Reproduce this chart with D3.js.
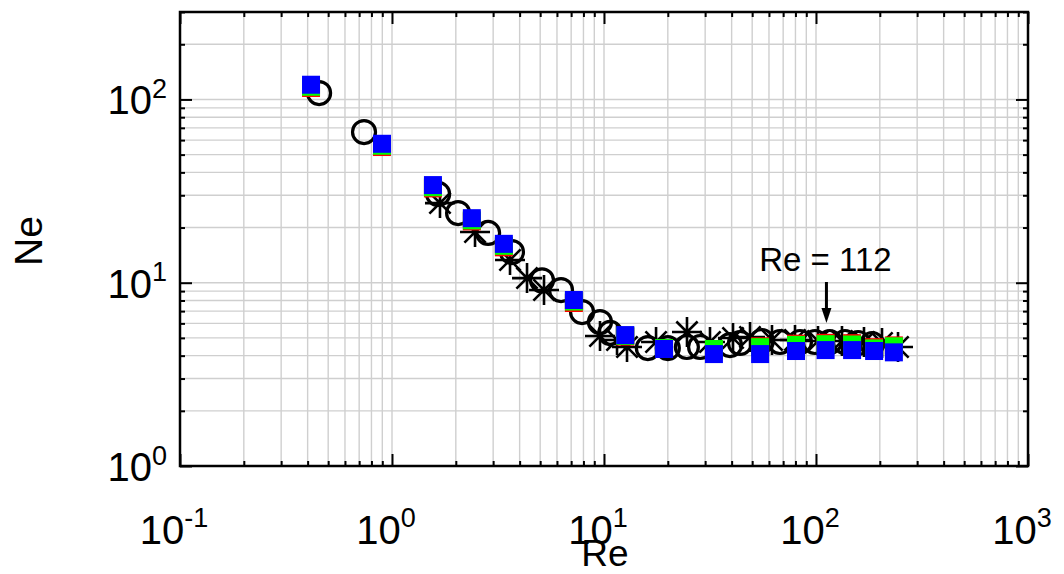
<!DOCTYPE html>
<html>
<head>
<meta charset="utf-8">
<script src="https://cdn.jsdelivr.net/npm/d3@7"></script>
<style>
  html, body { margin: 0; padding: 0; background: #fff; }
  svg { display: block; font-family: "Liberation Sans", Arial, sans-serif; }
</style>
</head>
<body>
<svg id="chart" width="1064" height="574"></svg>
<script>
// ---- data ----
const xTicks = [0.1, 1, 10, 100, 1000];
const xTickExp = ["-1", "0", "1", "2", "3"];
const yTicks = [1, 10, 100];
const yTickExp = ["0", "1", "2"];

// open circles
const circleRe = [0.453, 0.738, 1.65, 2.05, 2.84, 3.68, 5.10, 6.27, 7.88, 9.57, 10.7, 16.1, 20.0, 24.6, 28.4, 39.3, 43.8, 55.6, 67.6, 84.0, 98.9, 116, 137, 158, 184];
const circleNe = [108.4, 66.4, 30.5, 24.0, 18.7, 14.7, 10.3, 9.12, 6.92, 6.10, 5.32, 4.40, 4.40, 4.46, 4.46, 4.57, 4.69, 4.81, 4.75, 4.75, 4.75, 4.75, 4.75, 4.69, 4.63];

// asterisks
const starRe = [1.684, 2.464, 3.603, 4.334, 5.212, 9.575, 11.52, 12.84, 17.60, 24.63, 31.62, 40.61, 48.84, 62.0, 79.6, 102.2, 132.6, 168.4, 204.8, 243.7];
const starNe = [27.2, 18.9, 13.3, 10.6, 9.12, 5.12, 4.87, 4.46, 4.75, 5.38, 4.75, 4.99, 5.06, 4.87, 4.87, 4.81, 4.81, 4.75, 4.69, 4.46];

// filled squares (red, green, blue share the same Re)
const squareRe = [0.415, 0.897, 1.56, 2.38, 3.37, 7.21, 12.6, 19.2, 33.0, 54.5, 80.5, 111, 148, 188, 233];
const redNe   = [115.5, 55.0, 32.7, 21.6, 15.6, 7.75, 5.08, 4.38, 4.30, 4.50, 4.65, 4.70, 4.68, 4.45, 4.55];
const greenNe = [117.3, 55.9, 33.2, 21.9, 15.9, 7.90, 5.13, 4.40, 4.35, 4.45, 4.58, 4.62, 4.60, 4.38, 4.50];
const blueNe  = [120.3, 57.3, 34.1, 22.5, 16.3, 8.05, 5.18, 4.35, 4.08, 4.08, 4.24, 4.29, 4.29, 4.24, 4.17];

const annotationText = "Re = 112";
const annotationRe = 112;
const xTitle = "Re";
const yTitle = "Ne";

// ---- layout ----
const svg = d3.select("#chart");
const L = 180, R = 1028, T = 12, B = 466;
const x = d3.scaleLog().domain([0.1, 1000]).range([L, R]);
const y = d3.scaleLog().domain([1, 300]).range([B, T]);

// minor values
const minorX = [];
for (let d = -1; d < 3; d++) for (let k = 2; k <= 9; k++) minorX.push(k * Math.pow(10, d));
const minorY = [];
for (let d = 0; d < 3; d++) for (let k = 2; k <= 9; k++) { const v = k * Math.pow(10, d); if (v <= 300) minorY.push(v); }

// ---- grid ----
const grid = svg.append("g");
const gridX = minorX.concat(xTicks.slice(1, -1));
const gridY = minorY.concat(yTicks.slice(1));
grid.selectAll("line.gx").data(gridX).enter().append("line")
  .attr("x1", d => x(d)).attr("x2", d => x(d)).attr("y1", T).attr("y2", B)
  .attr("stroke", "#cfcfcf").attr("stroke-width", 1.4);
grid.selectAll("line.gy").data(gridY).enter().append("line")
  .attr("x1", L).attr("x2", R).attr("y1", d => y(d)).attr("y2", d => y(d))
  .attr("stroke", "#cfcfcf").attr("stroke-width", 1.4);

// ---- axes (inward ticks on all four sides) ----
function styleAxis(g) {
  g.select(".domain").remove();
  g.selectAll("line").attr("stroke", "#000").attr("stroke-width", 2);
}
const fmtNone = () => "";
svg.append("g").attr("transform", `translate(0,${B})`)
  .call(d3.axisBottom(x).tickValues(minorX).tickSize(-5).tickFormat(fmtNone)).call(styleAxis);
svg.append("g").attr("transform", `translate(0,${B})`)
  .call(d3.axisBottom(x).tickValues(xTicks).tickSize(-12).tickFormat(fmtNone)).call(styleAxis);
svg.append("g").attr("transform", `translate(0,${T})`)
  .call(d3.axisTop(x).tickValues(minorX).tickSize(-5).tickFormat(fmtNone)).call(styleAxis);
svg.append("g").attr("transform", `translate(0,${T})`)
  .call(d3.axisTop(x).tickValues(xTicks).tickSize(-12).tickFormat(fmtNone)).call(styleAxis);
svg.append("g").attr("transform", `translate(${L},0)`)
  .call(d3.axisLeft(y).tickValues(minorY).tickSize(-5).tickFormat(fmtNone)).call(styleAxis);
svg.append("g").attr("transform", `translate(${L},0)`)
  .call(d3.axisLeft(y).tickValues(yTicks).tickSize(-12).tickFormat(fmtNone)).call(styleAxis);
svg.append("g").attr("transform", `translate(${R},0)`)
  .call(d3.axisRight(y).tickValues(minorY).tickSize(-5).tickFormat(fmtNone)).call(styleAxis);
svg.append("g").attr("transform", `translate(${R},0)`)
  .call(d3.axisRight(y).tickValues(yTicks).tickSize(-12).tickFormat(fmtNone)).call(styleAxis);

// frame
svg.append("rect").attr("x", L).attr("y", T).attr("width", R - L).attr("height", B - T)
  .attr("fill", "none").attr("stroke", "#000").attr("stroke-width", 2.5);

// tick labels with superscripts
const xl = svg.append("g").selectAll("text").data(xTicks).enter().append("text")
  .attr("x", d => x(d) - 6).attr("y", 544).attr("text-anchor", "middle")
  .attr("font-size", 40).attr("fill", "#000");
xl.append("tspan").text("10");
xl.append("tspan").attr("dy", -17).attr("font-size", 27).text((d, i) => xTickExp[i]);

const yl = svg.append("g").selectAll("text").data(yTicks).enter().append("text")
  .attr("x", 167).attr("y", d => y(d) + 15).attr("text-anchor", "end")
  .attr("font-size", 40).attr("fill", "#000");
yl.append("tspan").text("10");
yl.append("tspan").attr("dy", -16.5).attr("font-size", 27).text((d, i) => yTickExp[i]);

// axis titles
svg.append("text").attr("x", (L + R) / 2 + 1).attr("y", 566).attr("text-anchor", "middle")
  .attr("font-size", 37).text(xTitle);
svg.append("text").attr("transform", `translate(42,241) rotate(-90)`).attr("text-anchor", "middle")
  .attr("font-size", 39).text(yTitle);

// ---- marks ----
const plot = svg.append("g");
// circles
plot.selectAll("circle.c").data(circleRe.map((r, i) => [r, circleNe[i]])).enter().append("circle")
  .attr("cx", d => x(d[0])).attr("cy", d => y(d[1])).attr("r", 11.5)
  .attr("fill", "none").attr("stroke", "#000").attr("stroke-width", 3.2);
// asterisks
const starPath = (() => {
  const a = 15, b = 15 * Math.SQRT1_2;
  return `M${-a},0L${a},0M0,${-a}L0,${a}M${-b},${-b}L${b},${b}M${-b},${b}L${b},${-b}`;
})();
plot.selectAll("path.s").data(starRe.map((r, i) => [r, starNe[i]])).enter().append("path")
  .attr("transform", d => `translate(${x(d[0])},${y(d[1])})`)
  .attr("d", starPath).attr("fill", "none").attr("stroke", "#000").attr("stroke-width", 2.6);
// squares
const sq = 18;
[[redNe, "#ff0000"], [greenNe, "#00ff00"], [blueNe, "#0000ff"]].forEach(([vals, col]) => {
  plot.append("g").selectAll("rect").data(squareRe.map((r, i) => [r, vals[i]])).enter().append("rect")
    .attr("x", d => x(d[0]) - sq / 2).attr("y", d => y(d[1]) - sq / 2)
    .attr("width", sq).attr("height", sq).attr("fill", col);
});

// ---- annotation ----
const ax = x(annotationRe);
svg.append("text").attr("x", ax - 1).attr("y", 271).attr("text-anchor", "middle")
  .attr("font-size", 33).text(annotationText);
svg.append("line").attr("x1", ax).attr("x2", ax).attr("y1", 282).attr("y2", 310)
  .attr("stroke", "#000").attr("stroke-width", 3);
svg.append("path").attr("d", `M${ax - 5},308L${ax + 5},308L${ax},323Z`).attr("fill", "#000");
</script>
</body>
</html>
